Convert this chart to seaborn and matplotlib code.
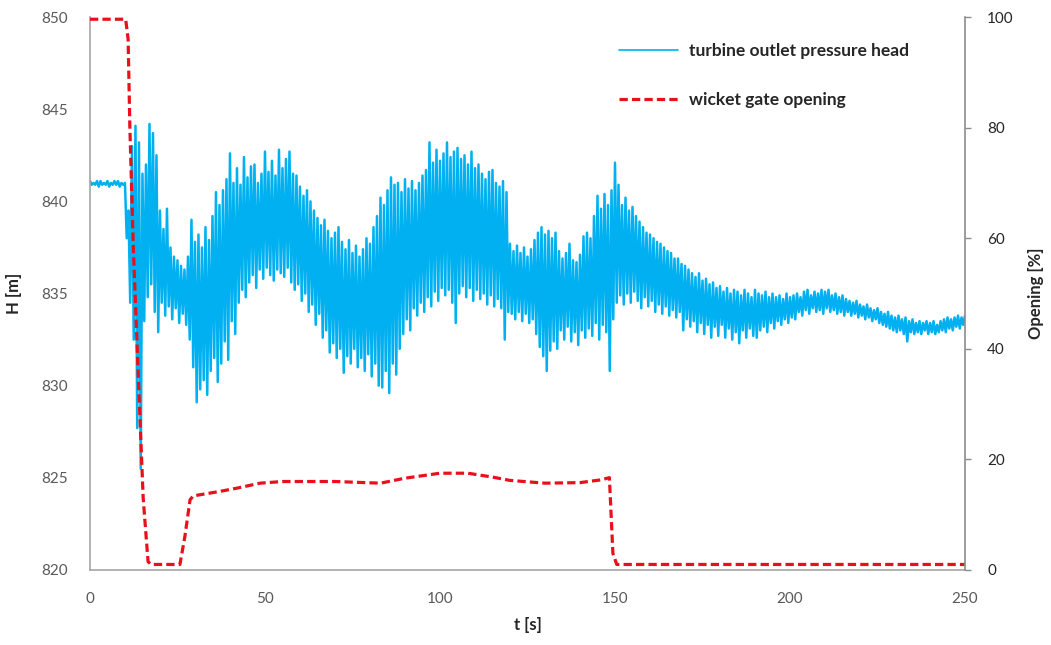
import numpy as np
import pandas as pd
import matplotlib
matplotlib.use("Agg")
import matplotlib.pyplot as plt
import seaborn as sns

# Turbine outlet pressure head H [m]: local maxima at whole seconds (t = 0..250)
h_peaks = [
    841.1, 841.0, 841.1, 841.1, 841.0, 841.1, 841.0, 841.1, 841.1, 841.0,
    841.0, 839.5, 843.0, 844.1, 843.2, 841.5, 842.0, 844.2, 843.7, 842.5,
    839.5, 838.5, 839.6, 837.5, 837.0, 836.8, 836.5, 836.3, 837.0, 839.0,
    837.8, 838.2, 837.5, 838.6, 837.9, 839.2, 840.5, 839.8, 840.6, 841.2,
    842.6, 841.0, 841.8, 840.9, 842.4, 841.3, 841.9, 842.0, 841.0, 841.5,
    842.7, 841.6, 842.2, 841.4, 842.8, 841.8, 842.3, 842.7, 841.5, 841.4,
    840.8, 840.3, 840.6, 840.0, 839.5, 839.1, 838.7, 839.0, 838.4, 838.0,
    838.3, 838.6, 837.8, 837.4, 837.9, 837.2, 837.6, 837.0, 837.4, 838.0,
    837.7, 838.6, 839.2, 840.2, 839.8, 840.6, 841.3, 840.9, 841.0, 840.5,
    841.2, 840.7, 841.1, 840.6, 841.0, 841.4, 841.7, 843.2, 842.1, 842.8,
    842.2, 842.6, 843.2, 842.4, 842.7, 842.9, 842.3, 842.5, 842.0, 842.7,
    841.8, 842.0, 841.5, 841.2, 841.6, 841.7, 841.0, 840.8, 841.1, 840.5,
    837.7, 837.3, 837.6, 837.2, 837.5, 837.0, 837.4, 837.9, 838.3, 838.6,
    838.2, 838.4, 838.0, 838.3, 837.3, 836.9, 837.2, 837.7, 836.8, 836.7,
    837.1, 838.1, 838.3, 838.0, 839.2, 840.3, 839.6, 840.4, 839.8, 840.6,
    842.1, 840.9, 839.8, 840.2, 839.5, 839.7, 839.2, 838.9, 838.6, 838.3,
    838.2, 838.0, 837.8, 837.7, 837.5, 837.3, 837.2, 836.9, 836.9, 836.6,
    836.5, 836.3, 836.1, 835.9, 836.1, 835.7, 835.8, 835.5, 835.6, 835.3,
    835.4, 835.1, 835.3, 835.0, 835.2, 835.1, 834.9, 835.2, 835.0, 834.8,
    835.2, 835.0, 834.9, 835.1, 834.8, 835.0, 834.8, 834.9, 834.7, 835.0,
    834.8, 834.9, 835.0, 834.8, 835.1, 835.2, 834.9, 835.1, 835.0, 835.2,
    835.1, 835.2, 834.9, 835.0, 834.8, 834.9, 834.7, 834.6, 834.5, 834.6,
    834.4, 834.3, 834.4, 834.2, 834.1, 834.2, 834.0, 833.9, 834.0, 833.8,
    833.7, 833.8, 833.6, 833.7, 833.5, 833.6, 833.4, 833.5, 833.4, 833.5,
    833.4, 833.5, 833.3, 833.5, 833.6, 833.7, 833.6, 833.7, 833.8, 833.7,
    833.8,
]

# Local minima half a second later (t = 0.5..249.5)
h_troughs = [
    840.9, 840.9, 840.8, 840.9, 840.9, 840.8, 840.9, 840.9, 840.8, 840.9,
    838.0, 834.5, 832.5, 827.7, 825.5, 833.5, 834.8, 835.5, 834.0, 832.9,
    834.5, 833.8, 834.3, 833.6, 834.2, 833.4, 833.9, 833.3, 832.5, 831.0,
    829.1, 829.8, 830.3, 829.5, 830.8, 831.5, 830.2, 831.2, 832.4, 831.4,
    833.5, 832.8, 834.5, 835.2, 834.8, 835.6, 836.0, 835.3, 836.3, 835.8,
    836.4, 836.0, 835.7, 836.3, 836.1, 835.9, 836.4, 835.6, 835.2, 835.5,
    834.6, 835.0, 834.0, 834.4, 833.3, 833.9, 832.6, 833.0, 831.8, 832.3,
    831.5, 832.0, 830.7, 831.6, 831.2, 832.0, 831.0, 831.5, 830.8, 831.7,
    830.5, 831.2, 830.0, 829.9, 830.8, 829.6, 831.2, 830.6, 832.0, 832.8,
    833.6, 833.0, 834.2, 833.8, 834.5, 834.0, 834.8, 834.3, 835.1, 834.6,
    835.3, 834.9, 835.2, 834.5, 833.4, 835.0, 835.4, 834.8, 835.3, 834.6,
    835.2, 834.7, 835.0, 834.4, 834.9, 834.3, 834.7, 834.2, 832.5, 834.0,
    833.9, 833.6, 834.0, 833.5, 833.9, 833.4, 833.6, 832.8, 832.1, 831.6,
    830.8, 831.9, 832.4, 832.0, 833.0, 832.5, 833.2, 832.4, 832.9, 832.2,
    833.0, 832.6, 833.1, 832.7, 833.4, 832.5, 833.3, 832.9, 830.8, 833.6,
    834.5, 834.9, 834.4, 835.0, 834.5, 835.1, 834.6, 834.2, 834.8, 834.3,
    834.6, 834.0, 834.4, 833.9, 834.3, 833.8, 834.1, 833.7, 834.0, 833.0,
    833.6, 833.2, 833.5, 832.9, 833.4, 832.8, 833.3, 832.6, 833.2, 832.7,
    833.3, 832.6, 833.1, 832.5, 832.9, 832.3, 833.0, 832.6, 833.1, 832.7,
    832.6, 833.0, 833.2, 832.9, 833.4, 833.1, 833.5, 833.3, 833.6, 833.4,
    833.7, 833.6, 834.0, 833.8, 834.1, 833.9, 834.2, 834.0, 834.1, 833.9,
    834.2, 834.0, 834.1, 833.9, 834.0, 833.8, 834.0, 833.8, 833.9, 833.7,
    833.8, 833.6, 833.7, 833.5, 833.6, 833.4, 833.3, 833.2, 833.1, 833.0,
    832.9, 833.0, 832.8, 832.4, 832.9, 832.8, 832.9, 832.8, 833.0, 832.8,
    832.9, 832.8, 832.9, 833.0, 832.9, 833.1, 833.0, 833.2, 833.1, 833.3,
]

# Wicket gate opening [%]
gate_t = [0, 10.2, 10.9, 11.4, 12.4, 13.5, 15.2, 16.6, 17.5, 25.7, 27.1, 28.6,
          29.5, 31.4, 37, 42, 48.6, 55, 70, 83, 90, 100, 108, 115, 120, 130,
          140, 146, 148.4, 149.4, 150.5, 250]
gate_open = [99.6, 99.6, 96, 80, 58, 40, 13, 1.5, 1.0, 1.0, 6, 12.7,
             13.4, 13.6, 14.2, 14.8, 15.7, 16.0, 16.0, 15.7, 16.6, 17.5, 17.5, 16.8, 16.2, 15.7,
             15.8, 16.3, 16.7, 3, 1.0, 1.0]

x_ticks = [0, 50, 100, 150, 200, 250]
h_ticks = [820, 825, 830, 835, 840, 845, 850]
open_ticks = [0, 20, 40, 60, 80, 100]

# Interleave maxima and minima into one time series
t_head, h_head = [], []
for i, p in enumerate(h_peaks):
    t_head.append(float(i))
    h_head.append(p)
    if i < len(h_troughs):
        t_head.append(i + 0.5)
        h_head.append(h_troughs[i])

head_df = pd.DataFrame({"t": t_head, "H": h_head})
gate_df = pd.DataFrame({"t": gate_t, "opening": gate_open})

sns.set_style("white")
plt.rcParams["font.family"] = ["Lato", "DejaVu Sans"]

fig = plt.figure(figsize=(10.51, 6.45), dpi=100)
ax = fig.add_axes([0.0856, 0.1163, 0.8326, 0.8573])
ax2 = ax.twinx()

blue = "#00B0F0"
red = "#E8101A"

sns.lineplot(data=head_df, x="t", y="H", ax=ax, color=blue, linewidth=1.8,
             estimator=None, sort=False, label="turbine outlet pressure head")
sns.lineplot(data=gate_df, x="t", y="opening", ax=ax2, color=red, linewidth=2.3,
             estimator=None, sort=False, label="wicket gate opening")
ax2.lines[0].set_dashes([2.6, 1.3])

ax.set_xlim(0, 250)
ax.set_ylim(820, 850)
ax2.set_ylim(0, 100)
ax.set_xticks(x_ticks)
ax.set_yticks(h_ticks)
ax2.set_yticks(open_ticks)

tick_color = "#595959"
spine_color = "#A6A6A6"
for a in (ax, ax2):
    for s in a.spines.values():
        s.set_color(spine_color)
        s.set_linewidth(1.2)
    a.spines["top"].set_visible(False)
ax.spines["right"].set_visible(False)
ax2.spines["left"].set_visible(False)
ax2.spines["bottom"].set_visible(False)
ax2.spines["right"].set_color("#8C8C8C")

ax.tick_params(axis="x", length=0, pad=16, labelsize=11, labelcolor=tick_color)
ax.tick_params(axis="y", length=0, pad=16, labelsize=11, labelcolor=tick_color)
ax2.tick_params(axis="y", length=4, width=1, direction="out", color="#8C8C8C",
                pad=12, labelsize=11, labelcolor="#262626")

ax.set_xlabel("t [s]", fontsize=12, fontweight="bold", labelpad=8)
ax.set_ylabel("H [m]", fontsize=12, fontweight="bold", labelpad=14)
ax2.set_ylabel("Opening [%]", fontsize=12, fontweight="bold", labelpad=10)

h1, l1 = ax.get_legend_handles_labels()
h2, l2 = ax2.get_legend_handles_labels()
if ax.get_legend() is not None:
    ax.get_legend().remove()
leg = ax2.legend(h1 + h2, l1 + l2, loc="upper left", bbox_to_anchor=(0.597, 0.965),
                 frameon=False, fontsize=12.5, labelspacing=1.9, handlelength=3.4,
                 handletextpad=0.6, borderaxespad=0)
for txt in leg.get_texts():
    txt.set_fontweight("bold")
leg.get_lines()[0].set_linewidth(1.2)

fig.savefig("out.png", dpi=100)
